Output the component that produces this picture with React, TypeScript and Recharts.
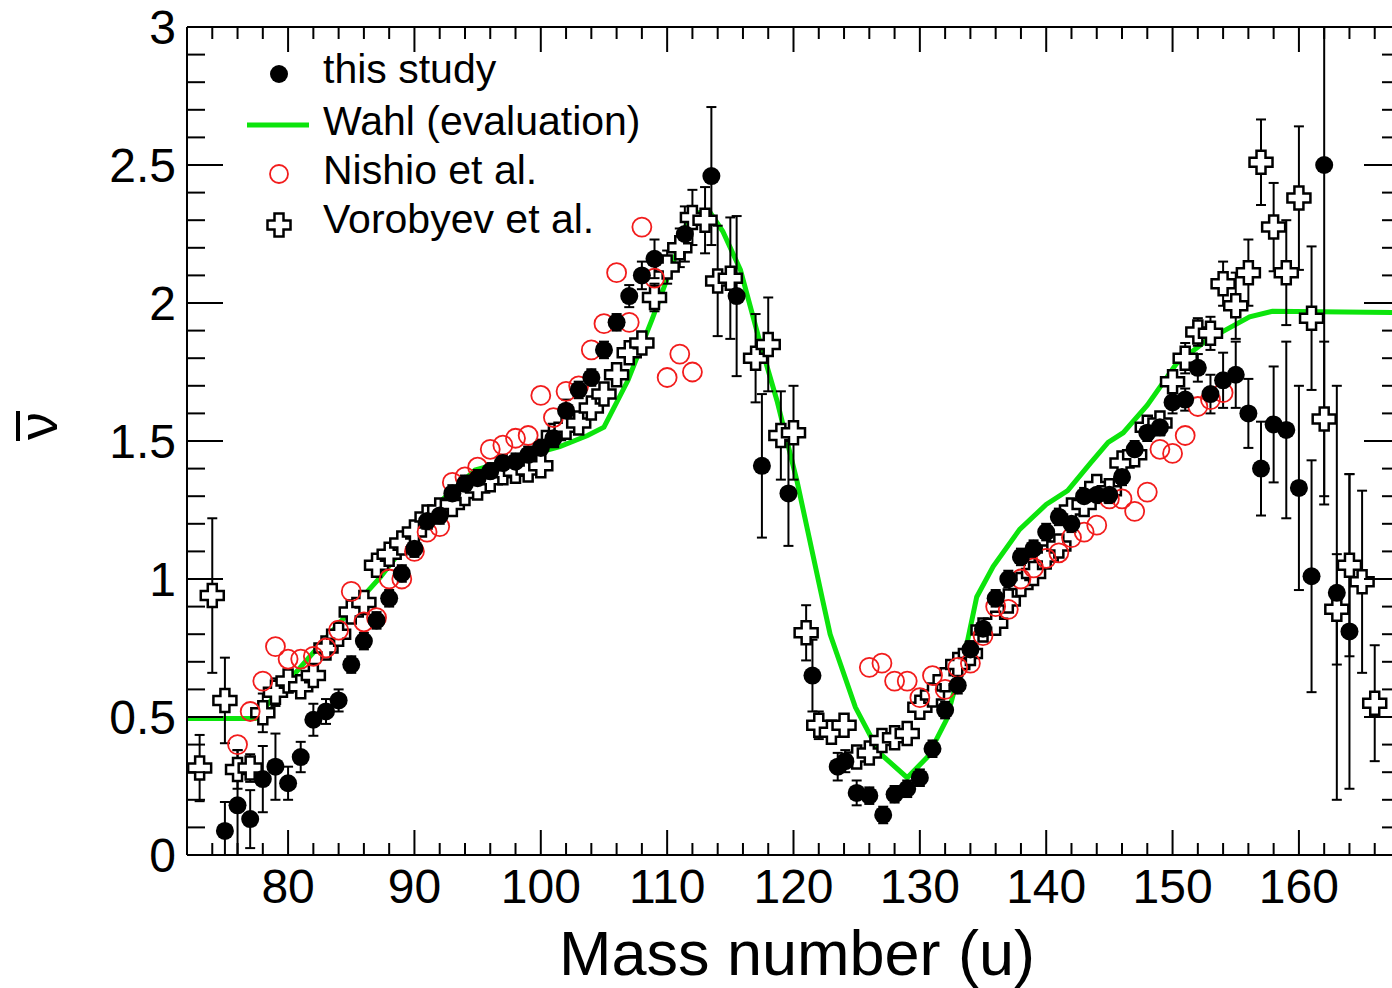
import { ComposedChart, Scatter, Line, XAxis, YAxis, ErrorBar } from 'recharts';

// this study (filled circles)
const studyMass = [75, 76, 77, 78, 79, 80, 81, 82, 83, 84, 85, 86, 87, 88, 89, 90, 91, 92, 93, 94, 95, 96, 97, 98, 99, 100, 101, 102, 103, 104, 105, 106, 107, 108, 109, 111.4, 113.5, 115.5, 117.5, 119.6, 121.5, 123.5, 124.1, 125, 126, 127.1, 128, 129, 130, 131, 132, 133, 134, 135, 136, 137, 138, 139, 140, 141, 142, 143, 144, 145, 146, 147, 148, 149, 150, 151, 152, 153, 154, 155, 156, 157, 158, 159, 160, 161, 162, 163, 164];
const studyNu = [0.087, 0.18, 0.13, 0.275, 0.32, 0.26, 0.355, 0.49, 0.52, 0.56, 0.69, 0.775, 0.85, 0.93, 1.02, 1.11, 1.21, 1.23, 1.31, 1.345, 1.365, 1.39, 1.42, 1.425, 1.45, 1.475, 1.51, 1.61, 1.685, 1.73, 1.83, 1.93, 2.025, 2.1, 2.16, 2.25, 2.46, 2.025, 1.41, 1.31, 0.65, 0.32, 0.34, 0.225, 0.215, 0.145, 0.22, 0.24, 0.28, 0.385, 0.525, 0.615, 0.745, 0.82, 0.93, 1.0, 1.08, 1.11, 1.17, 1.225, 1.2, 1.3, 1.305, 1.305, 1.37, 1.47, 1.53, 1.55, 1.64, 1.65, 1.765, 1.67, 1.72, 1.74, 1.6, 1.4, 1.56, 1.54, 1.33, 1.01, 2.5, 0.95, 0.81];
const studyErr = [0.105, 0.2, 0.105, 0.12, 0.12, 0.06, 0.055, 0.058, 0.045, 0.04, 0.03, 0.03, 0.03, 0.03, 0.03, 0.03, 0.03, 0.03, 0.03, 0.03, 0.03, 0.03, 0.03, 0.03, 0.03, 0.03, 0.03, 0.04, 0.03, 0.03, 0.03, 0.03, 0.04, 0.05, 0.07, 0.1, 0.25, 0.29, 0.26, 0.19, 0.13, 0.05, 0.04, 0.045, 0.03, 0.03, 0.03, 0.03, 0.03, 0.03, 0.03, 0.03, 0.03, 0.03, 0.03, 0.03, 0.03, 0.03, 0.03, 0.03, 0.03, 0.03, 0.03, 0.03, 0.03, 0.03, 0.03, 0.03, 0.04, 0.04, 0.05, 0.07, 0.1, 0.12, 0.125, 0.17, 0.21, 0.32, 0.37, 0.42, 1.23, 0.75, 0.57];

// Wahl evaluation (green line)
const wahlMass = [72, 77.4, 85.7, 87.3, 91.8, 94.8, 101.5, 103.7, 105, 106.9, 108.8, 110.5, 111.8, 113.3, 114.4, 115.8, 117.3, 118.7, 120.3, 122.3, 122.9, 124.9, 126.8, 129, 130.6, 132.1, 133.7, 134.5, 135.8, 137.9, 140, 141.7, 143.5, 144.9, 146.1, 148, 150.3, 152.7, 154.5, 156.1, 157.9, 168];
const wahlNu = [0.495, 0.495, 0.925, 1.007, 1.27, 1.395, 1.48, 1.52, 1.55, 1.72, 1.94, 2.15, 2.32, 2.335, 2.26, 2.12, 1.865, 1.645, 1.35, 0.925, 0.8, 0.535, 0.37, 0.28, 0.355, 0.49, 0.76, 0.935, 1.045, 1.18, 1.27, 1.32, 1.42, 1.495, 1.53, 1.63, 1.78, 1.865, 1.91, 1.95, 1.97, 1.965];

// Nishio et al. (open red circles)
const nishioMass = [76, 77, 78, 79, 80, 81, 82, 83, 84, 85, 86, 87, 88, 89, 90, 91, 92, 93, 94, 95, 96, 97, 98, 99, 100, 101, 102, 103, 104, 105, 106, 107, 108, 109, 110, 111, 112, 126, 127, 128, 129, 130, 131, 132, 133, 134, 135, 136, 137, 138, 139, 140, 141, 142, 143, 144, 145, 146, 147, 148, 149, 150, 151, 152, 153, 154];
const nishioNu = [0.4, 0.52, 0.63, 0.755, 0.71, 0.71, 0.72, 0.75, 0.815, 0.955, 0.845, 0.86, 1.0, 1.0, 1.1, 1.17, 1.19, 1.35, 1.37, 1.405, 1.47, 1.485, 1.51, 1.52, 1.665, 1.585, 1.68, 1.7, 1.83, 1.925, 2.11, 1.93, 2.275, 2.09, 1.73, 1.815, 1.75, 0.68, 0.695, 0.63, 0.63, 0.57, 0.65, 0.6, 0.68, 0.695, 0.795, 0.9, 0.89, 1.0, 1.04, 1.075, 1.095, 1.15, 1.17, 1.195, 1.29, 1.29, 1.245, 1.315, 1.47, 1.455, 1.52, 1.625, 1.65, 1.675];

// Vorobyev et al. (open crosses)
const vorMass = [73, 74, 75, 76, 77, 78, 79, 80, 81, 82, 83, 84, 85, 86, 87, 88, 89, 90, 91, 92, 93, 94, 95, 96, 97, 98, 99, 100, 101, 102, 103, 104, 105, 106, 107, 108, 109, 110, 111, 112, 113, 114, 115, 117, 118, 119, 120, 121, 122, 123, 124, 125, 126, 127, 128, 129, 130, 131, 132, 133, 134, 135, 136, 137, 138, 139, 140, 141, 142, 143, 144, 145, 146, 147, 148, 149, 150, 151, 152, 153, 154, 155, 156, 157, 158, 159, 160, 161, 162, 163, 164, 165, 166];
const vorNu = [0.315, 0.94, 0.56, 0.31, 0.315, 0.515, 0.59, 0.63, 0.61, 0.65, 0.75, 0.8, 0.88, 0.915, 1.05, 1.09, 1.13, 1.17, 1.225, 1.25, 1.27, 1.31, 1.33, 1.36, 1.385, 1.39, 1.395, 1.41, 1.52, 1.55, 1.565, 1.62, 1.67, 1.74, 1.82, 1.855, 2.02, 2.13, 2.2, 2.31, 2.3, 2.08, 2.09, 1.8, 1.85, 1.52, 1.53, 0.805, 0.47, 0.445, 0.47, 0.355, 0.37, 0.415, 0.425, 0.44, 0.535, 0.58, 0.635, 0.69, 0.73, 0.815, 0.84, 0.92, 0.98, 1.02, 1.08, 1.12, 1.25, 1.27, 1.335, 1.32, 1.42, 1.45, 1.55, 1.565, 1.715, 1.8, 1.895, 1.89, 2.07, 1.99, 2.11, 2.51, 2.275, 2.11, 2.38, 1.945, 1.58, 0.89, 1.05, 0.99, 0.55];
const vorErr = [0.12, 0.28, 0.155, 0.07, 0.05, 0.07, 0.05, 0.04, 0.04, 0.03, 0.03, 0.03, 0.03, 0.03, 0.03, 0.03, 0.03, 0.03, 0.03, 0.03, 0.03, 0.03, 0.03, 0.03, 0.03, 0.03, 0.03, 0.03, 0.03, 0.03, 0.03, 0.03, 0.03, 0.03, 0.03, 0.04, 0.05, 0.06, 0.07, 0.1, 0.12, 0.2, 0.22, 0.16, 0.17, 0.16, 0.17, 0.1, 0.05, 0.04, 0.04, 0.03, 0.03, 0.03, 0.03, 0.03, 0.03, 0.03, 0.03, 0.03, 0.03, 0.03, 0.03, 0.03, 0.03, 0.03, 0.03, 0.03, 0.03, 0.03, 0.03, 0.03, 0.03, 0.03, 0.03, 0.03, 0.04, 0.055, 0.05, 0.06, 0.08, 0.12, 0.12, 0.155, 0.16, 0.19, 0.26, 0.26, 0.28, 0.2, 0.33, 0.33, 0.21];

const xTicks = Array.from({ length: 47 }, (_, i) => 74 + 2 * i);
const yTicks = Array.from({ length: 31 }, (_, i) => i / 10);
const yMax = 3;

const font = '"Liberation Sans", Arial, sans-serif';
const green = '#0ce40c';
const red = '#f21c1c';

// error bars are cut at the frame, like in the original plot
const clipErr = (v: number, e: number) => [Math.min(e, v), Math.min(e, yMax - v)];

const study = studyMass.map((A, i) => ({ A, v: studyNu[i], err: clipErr(studyNu[i], studyErr[i]) }));
const wahl = wahlMass.map((A, i) => ({ A, v: wahlNu[i] }));
const nishio = nishioMass.map((A, i) => ({ A, v: nishioNu[i] }));
const vor = vorMass.map((A, i) => ({ A, v: vorNu[i], err: clipErr(vorNu[i], vorErr[i]) }));

function crossPath(cx: number, cy: number, a = 4.5, s = 11.5) {
  return `M${cx - a},${cy - s}L${cx + a},${cy - s}L${cx + a},${cy - a}L${cx + s},${cy - a}L${cx + s},${cy + a}L${cx + a},${cy + a}L${cx + a},${cy + s}L${cx - a},${cy + s}L${cx - a},${cy + a}L${cx - s},${cy + a}L${cx - s},${cy - a}L${cx - a},${cy - a}Z`;
}

function BottomTick({ x, y, payload }: any) {
  const major = payload.value % 10 === 0;
  return (
    <g>
      <line x1={x} x2={x} y1={y} y2={y - (major ? 25 : 12)} stroke="#000" strokeWidth={2} />
      {major && (
        <text x={x} y={y + 48} textAnchor="middle" fontSize={48} fontFamily={font} fill="#000">
          {payload.value}
        </text>
      )}
    </g>
  );
}

function TopTick({ x, y, payload }: any) {
  const major = payload.value % 10 === 0;
  return <line x1={x} x2={x} y1={y} y2={y + (major ? 25 : 12)} stroke="#000" strokeWidth={2} />;
}

function LeftTick({ x, y, payload }: any) {
  const major = Math.round(payload.value * 10) % 5 === 0;
  return (
    <g>
      <line x1={x} x2={x + (major ? 36 : 18)} y1={y} y2={y} stroke="#000" strokeWidth={2} />
      {major && (
        <text x={x - 11} y={y + 17} textAnchor="end" fontSize={48} fontFamily={font} fill="#000">
          {String(payload.value)}
        </text>
      )}
    </g>
  );
}

function RightTick({ x, y, payload }: any) {
  const major = Math.round(payload.value * 10) % 5 === 0;
  return <line x1={x} x2={x - (major ? 36 : 18)} y1={y} y2={y} stroke="#000" strokeWidth={2} />;
}

export default function App() {
  return (
    <div style={{ position: 'fixed', left: 0, top: 0, width: 1392, height: 988, overflow: 'hidden', background: '#fff' }}>
      <ComposedChart width={1420} height={988} margin={{ top: 0, right: 0, bottom: 0, left: 0 }}>
        <XAxis
          xAxisId={0}
          type="number"
          dataKey="A"
          domain={[72, 168]}
          allowDataOverflow
          ticks={xTicks}
          interval={0}
          height={133}
          tickSize={0}
          tickMargin={0}
          tickLine={false}
          axisLine={{ stroke: '#000', strokeWidth: 2 }}
          tick={<BottomTick />}
        />
        <XAxis
          xAxisId="top"
          orientation="top"
          type="number"
          dataKey="A"
          domain={[72, 168]}
          allowDataOverflow
          ticks={xTicks}
          interval={0}
          height={27}
          tickSize={0}
          tickMargin={0}
          tickLine={false}
          axisLine={{ stroke: '#000', strokeWidth: 2 }}
          tick={<TopTick />}
        />
        <YAxis
          yAxisId={0}
          type="number"
          domain={[0, yMax]}
          allowDataOverflow
          ticks={yTicks}
          interval={0}
          width={187}
          tickSize={0}
          tickMargin={0}
          tickLine={false}
          axisLine={{ stroke: '#000', strokeWidth: 2 }}
          tick={<LeftTick />}
        />
        <YAxis
          yAxisId="right"
          orientation="right"
          type="number"
          domain={[0, yMax]}
          allowDataOverflow
          ticks={yTicks}
          interval={0}
          width={20}
          tickSize={0}
          tickMargin={0}
          tickLine={false}
          axisLine={{ stroke: '#000', strokeWidth: 2 }}
          tick={<RightTick />}
        />
        <Line
          data={wahl}
          dataKey="v"
          type="linear"
          stroke={green}
          strokeWidth={5}
          dot={false}
          isAnimationActive={false}
        />
        <Scatter
          data={vor}
          dataKey="v"
          isAnimationActive={false}
          shape={(p: any) => <path d={crossPath(p.cx, p.cy)} fill="#fff" stroke="#000" strokeWidth={2.5} />}
        >
          <ErrorBar dataKey="err" direction="y" width={5} stroke="#000" strokeWidth={2} />
        </Scatter>
        <Scatter
          data={nishio}
          dataKey="v"
          isAnimationActive={false}
          shape={(p: any) => <circle cx={p.cx} cy={p.cy} r={9.5} fill="none" stroke={red} strokeWidth={1.8} />}
        />
        <Scatter
          data={study}
          dataKey="v"
          isAnimationActive={false}
          shape={(p: any) => <circle cx={p.cx} cy={p.cy} r={9} fill="#000" />}
        >
          <ErrorBar dataKey="err" direction="y" width={5} stroke="#000" strokeWidth={2} />
        </Scatter>
      </ComposedChart>
      <svg width={1392} height={988} style={{ position: 'absolute', left: 0, top: 0, pointerEvents: 'none' }}>
        <g fontFamily={font} fontSize={41} fill="#000">
          <circle cx={279} cy={74} r={9} fill="#000" />
          <text x={323} y={83}>this study</text>
          <line x1={247} x2={309} y1={125} y2={125} stroke={green} strokeWidth={5} />
          <text x={323} y={135}>Wahl (evaluation)</text>
          <circle cx={279} cy={174} r={9} fill="none" stroke={red} strokeWidth={1.8} />
          <text x={323} y={184}>Nishio et al.</text>
          <path d={crossPath(279, 225)} fill="#fff" stroke="#000" strokeWidth={2.5} />
          <text x={323} y={233}>Vorobyev et al.</text>
        </g>
        <text x={797} y={975} textAnchor="middle" fontFamily={font} fontSize={63} fill="#000">
          Mass number (u)
        </text>
        <line x1={18} x2={18} y1={411} y2={441} stroke="#000" strokeWidth={4} />
        <text
          transform="translate(57,426) rotate(-90)"
          textAnchor="middle"
          fontFamily={font}
          fontSize={56}
          fill="#000"
        >
          ν
        </text>
      </svg>
    </div>
  );
}
